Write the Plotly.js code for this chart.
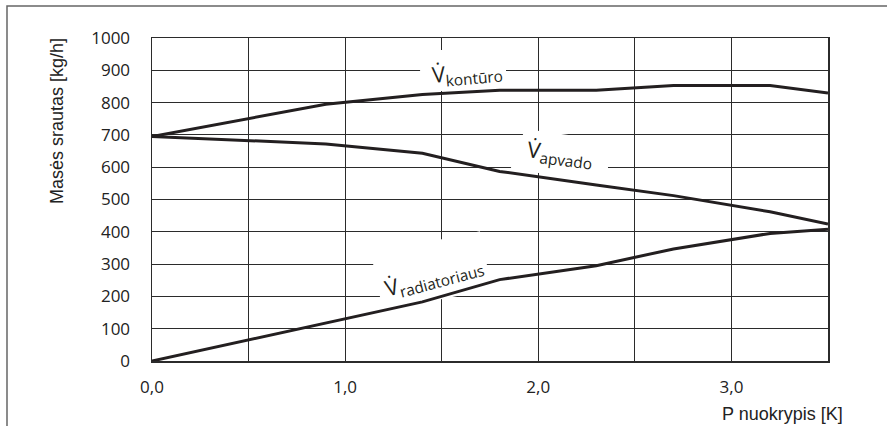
<!DOCTYPE html>
<html>
<head>
<meta charset="utf-8">
<script src="https://cdn.plot.ly/plotly-3.0.1.min.js"></script>
<style>html,body{margin:0;padding:0;background:#fff;}#chart{width:887px;height:426px;}</style>
</head>
<body>
<div id="chart"></div>
<script>
// Data
const xKontur = [0, 0.9, 1.4, 1.8, 2.3, 2.7, 3.2, 3.5];
const yKontur = [695, 795, 825, 838, 838, 853, 853, 830];

const xApvado = [0, 0.9, 1.4, 1.8, 2.3, 2.7, 3.2, 3.5];
const yApvado = [695, 672, 643, 587, 545, 512, 462, 424];

const xRadiat = [0, 0.9, 1.4, 1.8, 2.3, 2.7, 3.2, 3.5];
const yRadiat = [0, 118, 183, 252, 295, 347, 395, 408];

const xTickVals = [0, 0.5, 1, 1.5, 2, 2.5, 3, 3.5];
const xTickText = ['0,0', '', '1,0', '', '2,0', '', '3,0', ''];
const yTickVals = [0, 100, 200, 300, 400, 500, 600, 700, 800, 900, 1000];

const lineColor = '#231f20';
const lineStyle = {color: lineColor, width: 3};

const traces = [
  {x: xKontur, y: yKontur, mode: 'lines', line: lineStyle, name: 'kontūro', hoverinfo: 'skip'},
  {x: xApvado, y: yApvado, mode: 'lines', line: lineStyle, name: 'apvado', hoverinfo: 'skip'},
  {x: xRadiat, y: yRadiat, mode: 'lines', line: lineStyle, name: 'radiatoriaus', hoverinfo: 'skip'}
];

const labelFont = {family: 'Open Sans, DejaVu Sans, sans-serif', size: 22, color: lineColor};
const gridCol = '#2b2b2b';

function poly(pts) {
  return 'M' + pts.map(p => p[0] + ',' + p[1]).join(' L') + ' Z';
}
const whitePatch = {type: 'path', xref: 'x', yref: 'y', layer: 'between',
  fillcolor: '#fff', line: {width: 0}};

const layout = {
  width: 887, height: 426,
  margin: {l: 152, r: 59, t: 38, b: 65},
  paper_bgcolor: '#fff', plot_bgcolor: '#fff',
  showlegend: false,
  font: {family: 'Open Sans, sans-serif', color: '#222'},
  xaxis: {
    range: [0, 3.5], tickvals: xTickVals, ticktext: xTickText,
    showgrid: true, gridcolor: gridCol, gridwidth: 1,
    showline: true, linecolor: gridCol, linewidth: 1.5, mirror: true,
    zeroline: false, ticks: '', ticklabelstandoff: 10,
    tickfont: {family: 'Open Sans, sans-serif', size: 17, color: '#222'},
    fixedrange: true
  },
  yaxis: {
    range: [0, 1000], tickvals: yTickVals,
    showgrid: true, gridcolor: gridCol, gridwidth: 1,
    showline: true, linecolor: gridCol, linewidth: 1.5, mirror: true,
    zeroline: false, ticks: '', ticklabelstandoff: 17,
    tickfont: {family: 'Open Sans, sans-serif', size: 17, color: '#222'},
    fixedrange: true
  },
  shapes: [
    {type: 'rect', xref: 'paper', yref: 'paper', x0: -0.2145, x1: 1.12, y0: -0.26, y1: 1.099,
     line: {color: '#666', width: 1.5}, fillcolor: 'rgba(0,0,0,0)', layer: 'below'},
    Object.assign({}, whitePatch, {path: poly([[1.388, 836], [1.833, 836], [1.833, 963], [1.388, 963]])}),
    Object.assign({}, whitePatch, {path: poly([[1.931, 718], [2.382, 681], [2.351, 560], [1.854, 591]])}),
    Object.assign({}, whitePatch, {path: poly([[1.134, 331], [1.698, 402], [1.760, 223], [1.196, 155]])})
  ],
  annotations: [
    {xref: 'paper', yref: 'paper', x: (57 - 152) / 676, y: (361 - 121) / 323, text: 'Masės srautas [kg/h]',
     textangle: -90, showarrow: false, font: {family: 'Liberation Sans, Arial, sans-serif', size: 18, color: '#222'},
     xanchor: 'center', yanchor: 'middle'},
    {xref: 'paper', yref: 'paper', x: (845 - 152) / 676, y: (361 - 414) / 323, text: 'P nuokrypis [K]',
     showarrow: false, font: {family: 'Liberation Sans, Arial, sans-serif', size: 18, color: '#222'},
     xanchor: 'right', yanchor: 'middle'},
    {x: 1.63, y: 893, text: 'V\u0307<sub>kontūro</sub>', showarrow: false, textangle: -5, font: labelFont},
    {x: 2.11, y: 640, text: 'V\u0307<sub>apvado</sub>', showarrow: false, textangle: 7, font: labelFont},
    {x: 1.46, y: 260, text: 'V\u0307<sub>radiatoriaus</sub>', showarrow: false, textangle: -15, font: labelFont}
  ]
};

Plotly.newPlot('chart', traces, layout, {displayModeBar: false, staticPlot: true});
</script>
</body>
</html>
